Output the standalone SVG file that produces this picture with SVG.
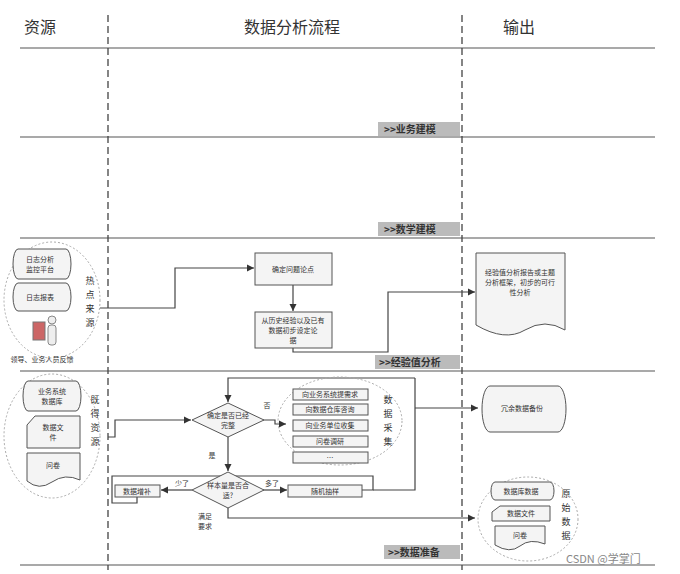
<svg xmlns="http://www.w3.org/2000/svg" width="680" height="574" viewBox="0 0 680 574">
<style>
text{font-family:"Noto Sans CJK SC","Liberation Sans",sans-serif;fill:#333}
.h{font-size:16px}
.s{font-size:7px;text-anchor:middle}
.v{font-size:9px;text-anchor:middle}
.box{fill:#f4f4f4;stroke:#555;stroke-width:1}
.ln{fill:none;stroke:#444;stroke-width:1.2}
.arr{fill:none;stroke:#444;stroke-width:1.2;marker-end:url(#a)}
.grp{fill:none;stroke:#aaa;stroke-width:1;stroke-dasharray:2 2}
.ban{fill:#bbb}
.bt{font-size:10px;font-weight:bold;fill:#333}
.sep{stroke:#555;stroke-width:1.2}
.dv{stroke:#444;stroke-width:1.3;stroke-dasharray:7 4}
</style>
<defs><marker id="a" markerWidth="7" markerHeight="7" refX="6" refY="3.5" orient="auto"><path d="M0,0.5 L6,3.5 L0,6.5Z" fill="#333"/></marker></defs>
<rect width="680" height="574" fill="#fff"/>
<g id="frame">
<text class="h" x="24" y="33">资源</text>
<text class="h" x="244" y="33">数据分析流程</text>
<text class="h" x="503" y="33">输出</text>
<line class="sep" x1="20" y1="48" x2="655" y2="48"/>
<line class="sep" x1="20" y1="137" x2="655" y2="137"/>
<line class="sep" x1="20" y1="238" x2="655" y2="238"/>
<line class="sep" x1="20" y1="371" x2="655" y2="371"/>
<line class="sep" x1="20" y1="565" x2="655" y2="565"/>
<line class="dv" x1="108" y1="15" x2="108" y2="570"/>
<line class="dv" x1="462" y1="15" x2="462" y2="570"/>
<rect class="ban" x="378" y="122" width="82" height="14"/><text class="bt" x="384" y="133">&gt;&gt;业务建模</text>
<rect class="ban" x="378" y="222" width="82" height="14"/><text class="bt" x="384" y="233">&gt;&gt;数学建模</text>
<rect class="ban" x="375" y="355" width="85" height="14"/><text class="bt" x="379" y="366">&gt;&gt;经验值分析</text>
<rect class="ban" x="384" y="545" width="76" height="14"/><text class="bt" x="388" y="556">&gt;&gt;数据准备</text>
</g>
<g id="connectors">
<path class="arr" d="M100,308 H175 V268 H254"/>
<path class="arr" d="M293,285 V311"/>
<path class="arr" d="M293,348 V352 H388 V292 H475"/>
<path class="arr" d="M108,437 H115 V420 H191"/>
<path class="arr" d="M263,420 H275 V424 H286"/>
<path class="arr" d="M415,378 H228 V402"/>
<path class="arr" d="M228,437 V471"/>
<path class="arr" d="M192,490 H161"/>
<path class="arr" d="M263,490 H287"/>
<path class="ln" d="M137,497 V503 H112 V476 H373 V490 H362"/>
<path class="ln" d="M415,378 V490 H373"/>
<path class="arr" d="M415,408 H478"/>
<path class="arr" d="M228,508 V518 H475"/>
<text class="s" x="267" y="408">否</text>
<text class="s" x="212" y="458">是</text>
<text class="s" x="182" y="486">少了</text>
<text class="s" x="272" y="486">多了</text>
<text class="s" x="205" y="519">满足</text>
<text class="s" x="205" y="529">要求</text>
</g>
<g id="hot-source">
<ellipse class="grp" cx="52" cy="300" rx="48" ry="58"/>
<path class="box" d="M18,249 H66 A5,15 0 0 1 66,279 H18 A5,15 0 0 1 18,249Z"/>
<text class="s" x="40" y="262">日志分析</text><text class="s" x="40" y="272">监控平台</text>
<path class="box" d="M18,283 H66 A5,14 0 0 1 66,311 H18 A5,14 0 0 1 18,283Z"/>
<text class="s" x="40" y="300">日志报表</text>
<rect x="33" y="322" width="12" height="18" fill="#c66" stroke="#777"/>
<circle cx="52" cy="320" r="4" fill="#eee" stroke="#888"/>
<rect x="48" y="325" width="8" height="20" rx="3" fill="#eee" stroke="#888"/>
<text class="v" x="90" y="284">热</text><text class="v" x="90" y="298">点</text><text class="v" x="90" y="312">来</text><text class="v" x="90" y="326">源</text>
<text class="s" x="42" y="362">领导、业务人员反馈</text>
</g>
<g id="n-issue"><rect class="box" x="255" y="253" width="77" height="32"/><text class="s" x="293" y="272">确定问题论点</text></g>
<g id="n-hypo"><rect class="box" x="255" y="312" width="77" height="36"/><text class="s" x="293" y="323">从历史经验以及已有</text><text class="s" x="293" y="333">数据初步设定论</text><text class="s" x="293" y="343">据</text></g>
<g id="n-report"><path class="box" d="M476,253 H565 V330 Q545,318 525,330 T476,325Z"/>
<text class="s" x="520" y="275">经验值分析报告或主题</text><text class="s" x="520" y="285">分析框架，初步的可行</text><text class="s" x="520" y="295">性分析</text></g>
<g id="acquired">
<ellipse class="grp" cx="52" cy="436" rx="48" ry="62"/>
<path class="box" d="M28,381 H76 A5,15 0 0 1 76,411 H28 A5,15 0 0 1 28,381Z"/>
<text class="s" x="52" y="394">业务系统</text><text class="s" x="52" y="404">数据库</text>
<path class="box" d="M35,416 H80 V448 H27 V425Z"/><text class="s" x="53" y="430">数据文</text><text class="s" x="53" y="440">件</text>
<path class="box" d="M27,453 H80 V480 Q65,473 52,482 T27,481Z"/><text class="s" x="53" y="468">问卷</text>
<text class="v" x="95" y="403">既</text><text class="v" x="95" y="417">得</text><text class="v" x="95" y="431">资</text><text class="v" x="95" y="445">源</text>
</g>
<g id="d-complete"><path class="box" d="M192,420 L228,403 L264,420 L228,437Z"/><text class="s" x="228" y="418">确定是否已经</text><text class="s" x="228" y="428">完整</text></g>
<g id="collect">
<ellipse class="grp" cx="340" cy="421" rx="62" ry="44"/>
<rect class="box" x="293" y="389" width="75" height="11"/><text class="s" x="330" y="397">向业务系统提需求</text>
<rect class="box" x="293" y="404" width="75" height="11"/><text class="s" x="330" y="412">向数据仓库咨询</text>
<rect class="box" x="293" y="420" width="75" height="11"/><text class="s" x="330" y="428">向业务单位收集</text>
<rect class="box" x="293" y="436" width="75" height="11"/><text class="s" x="330" y="444">问卷调研</text>
<rect class="box" x="293" y="452" width="75" height="11"/><text class="s" x="330" y="460">…</text>
<text class="v" x="388" y="403">数</text><text class="v" x="388" y="417">据</text><text class="v" x="388" y="431">采</text><text class="v" x="388" y="445">集</text>
</g>
<g id="d-sample"><path class="box" d="M192,490 L228,472 L264,490 L228,508Z"/><text class="s" x="228" y="488">样本量是否合</text><text class="s" x="228" y="498">适?</text></g>
<g id="n-add"><rect class="box" x="115" y="485" width="45" height="12"/><text class="s" x="137" y="494">数据增补</text></g>
<g id="n-random"><rect class="box" x="288" y="485" width="74" height="12"/><text class="s" x="325" y="494">随机抽样</text></g>
<g id="n-backup"><path class="box" d="M490,386 H558 A8,23 0 0 1 558,432 H490 A8,23 0 0 1 490,386Z"/><text class="s" x="522" y="411">冗余数据备份</text></g>
<g id="raw">
<ellipse class="grp" cx="528" cy="519" rx="50" ry="42"/>
<path class="box" d="M495,482 H550 A4,9 0 0 1 550,500 H495 A4,9 0 0 1 495,482Z"/><text class="s" x="521" y="494">数据库数据</text>
<path class="box" d="M500,506 H550 V521 H492 V512Z"/><text class="s" x="521" y="516">数据文件</text>
<path class="box" d="M495,526 H545 V544 Q530,538 520,546 T495,545Z"/><text class="s" x="520" y="538">问卷</text>
<text class="v" x="566" y="497">原</text><text class="v" x="566" y="511">始</text><text class="v" x="566" y="525">数</text><text class="v" x="566" y="539">据</text>
</g>
<text x="566" y="563" style="font-size:11px;fill:#888">CSDN @学掌门</text>
</svg>
